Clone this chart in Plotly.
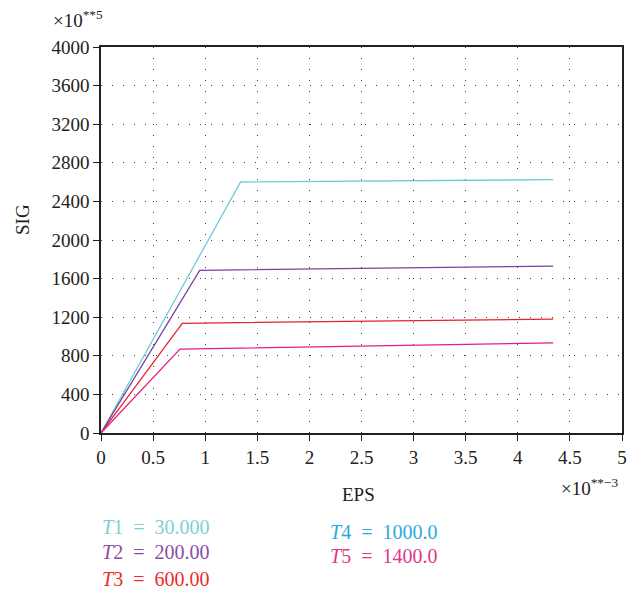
import plotly.graph_objects as go

# Data (EPS in units of 1e-3, SIG in units of 1e5)
series_names = ["T1 = 30.000", "T2 = 200.00", "T3 = 600.00", "T5 = 1400.0"]
t1_eps = [0.0, 1.34, 4.34]
t1_sig = [0.0, 2601, 2625]
t2_eps = [0.0, 0.947, 4.34]
t2_sig = [0.0, 1686, 1730]
t3_eps = [0.0, 0.78, 4.34]
t3_sig = [0.0, 1137, 1181]
t5_eps = [0.0, 0.758, 4.34]
t5_sig = [0.0, 870, 933]

x_ticks = [0, 0.5, 1, 1.5, 2, 2.5, 3, 3.5, 4, 4.5, 5]
x_tick_text = ["0", "0.5", "1", "1.5", "2", "2.5", "3", "3.5", "4", "4.5", "5"]
y_ticks = [0, 400, 800, 1200, 1600, 2000, 2400, 2800, 3200, 3600, 4000]

legend_labels = [
    ("<i>T</i>1 &nbsp;= &nbsp;30.000", "#7ccfd8"),
    ("<i>T</i>2 &nbsp;= &nbsp;200.00", "#8a4ca3"),
    ("<i>T</i>3 &nbsp;= &nbsp;600.00", "#ee2b2b"),
    ("<i>T</i>4 &nbsp;= &nbsp;1000.0", "#2aa9df"),
    ("<i>T</i>5 &nbsp;= &nbsp;1400.0", "#e0378c"),
]

line_colors = ["#6ecbd6", "#7e3f9f", "#e8202a", "#e61e84"]

FONT = "Liberation Serif"

fig = go.Figure()
for xs, ys, c, n in zip([t1_eps, t2_eps, t3_eps, t5_eps],
                        [t1_sig, t2_sig, t3_sig, t5_sig],
                        line_colors, series_names):
    fig.add_trace(go.Scatter(x=xs, y=ys, mode="lines", name=n,
                             line=dict(color=c, width=1.3), showlegend=False))

fig.update_layout(
    width=641, height=593,
    margin=dict(l=101, r=19, t=47, b=160),
    paper_bgcolor="white", plot_bgcolor="white",
    font=dict(family=FONT, size=19, color="#222"),
    showlegend=False,
)
axis_common = dict(
    showline=True, linecolor="#222", linewidth=1.5, mirror=True,
    ticks="outside", ticklen=6, tickcolor="#222", tickwidth=1.2,
    showgrid=True, gridcolor="#444", griddash="1px,10px", gridwidth=1,
    zeroline=False, tickfont=dict(size=19, family=FONT, color="#222"),
)
fig.update_xaxes(range=[0, 5], tickvals=x_ticks, ticktext=x_tick_text, **axis_common)
fig.update_yaxes(range=[0, 4000], tickvals=y_ticks, **axis_common)


def px(xp):
    return (xp - 101) / (622 - 101)


def py(yp):
    return (433 - yp) / (433 - 47)


anns = [
    dict(text="SIG", x=22, y=220, textangle=-90),
    dict(text="EPS", x=358, y=494),
    dict(text="×10<sup>**5</sup>", x=78, y=19),
    dict(text="×10<sup>**−3</sup>", x=590, y=487),
]
for a in anns:
    fig.add_annotation(text=a["text"], x=px(a["x"]), y=py(a["y"]), xref="paper", yref="paper",
                       showarrow=False, textangle=a.get("textangle", 0),
                       font=dict(family=FONT, size=19, color="#222"),
                       xanchor="center", yanchor="middle")

legend_pos = [(100, 527), (100, 552), (100, 579), (328, 532), (328, 556)]
for (txt, col), (lx, ly) in zip(legend_labels, legend_pos):
    fig.add_annotation(text=txt, x=px(lx), y=py(ly), xref="paper", yref="paper",
                       showarrow=False, xanchor="left", yanchor="middle",
                       font=dict(family=FONT, size=20, color=col))

fig.write_html("out.html", config={"displayModeBar": False})
with open("out.html", "r", encoding="utf-8") as f:
    html = f.read()
html = html.replace("<head>", "<head><style>html,body{margin:0;padding:0;}</style>", 1)
with open("out.html", "w", encoding="utf-8") as f:
    f.write(html)
